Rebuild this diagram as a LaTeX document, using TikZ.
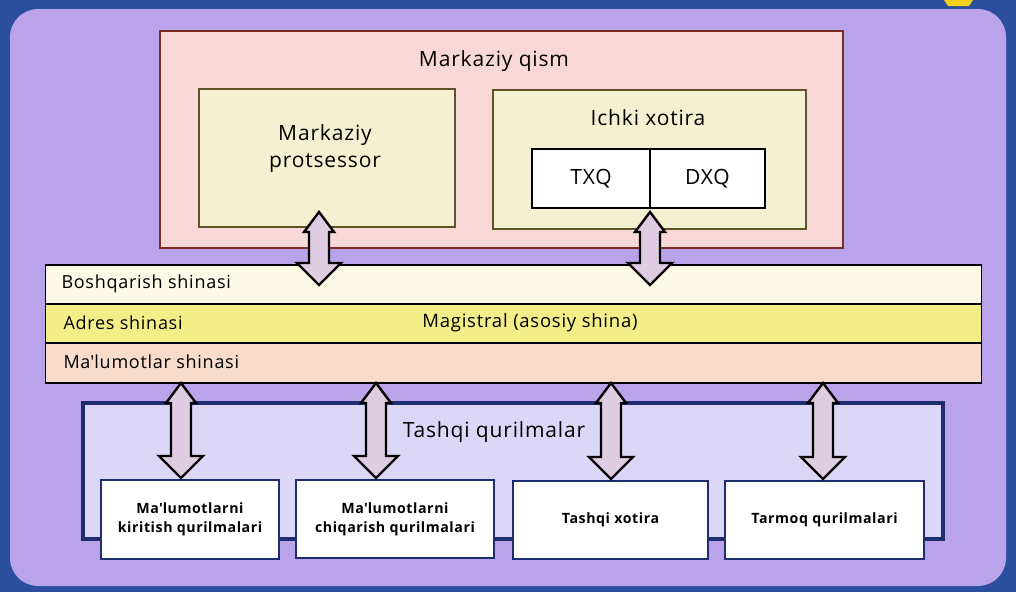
\documentclass[tikz,border=0pt]{standalone}
\usepackage{fontspec}
\setmainfont{Open Sans}[LetterSpace=4]
\usetikzlibrary{calc}
\definecolor{outerblue}{HTML}{2C4E9E}
\definecolor{lavender}{HTML}{B9A3EA}
\definecolor{centralpink}{HTML}{F7D8D6}
\definecolor{centralline}{HTML}{7A2E22}
\definecolor{unitfill}{HTML}{F4F0D2}
\definecolor{unitline}{HTML}{5E5326}
\definecolor{buscream}{HTML}{FCF9E6}
\definecolor{busyellow}{HTML}{F4EE88}
\definecolor{buspeach}{HTML}{F7DCCB}
\definecolor{periphfill}{HTML}{DCD7F6}
\definecolor{periphline}{HTML}{1E2C70}
\definecolor{arrowfill}{HTML}{E0CCE2}
\definecolor{tabyellow}{HTML}{F2D21A}
\def\busarrow(#1)(#2){\draw[busarrow] (#1) -- ++(15,20) -- ++(-5,0) -- ($(#2)+(10,-22)$) -- ++(12,0) -- (#2) -- ++(-22,-22) -- ++(12,0) -- ($(#1)+(-10,20)$) -- ++(-5,0) -- cycle;}

\begin{document}
\begin{tikzpicture}[x=1pt, y=-1pt,
	box/.style={rectangle, inner sep=0pt},
	busrow/.style={box, draw=black, line width=1.3pt, minimum width=936, anchor=west},
	buslabel/.style={anchor=west, font=\fontsize{18}{20}\selectfont},
	device/.style={box, fill=white, draw=periphline, line width=2.5pt, align=center, font=\fontsize{14.2}{19}\selectfont\bfseries},
	busarrow/.style={fill=arrowfill, draw=black, line width=2.4pt}]
			%%%%% BACKGROUND %%%%%
			\useasboundingbox (0,0) rectangle (1016,592);
			\fill[outerblue] (0,0) rectangle (1016,592);
			\fill[lavender, rounded corners=28] (10,9) rectangle (1006,586);
			\fill[tabyellow] (944,0) -- (973,0) -- (969,6) -- (948,6) -- cycle;
			
			%%%%% CENTRAL PART %%%%%
			\node[box, fill=centralpink, draw=centralline, line width=2.2pt, minimum width=683, minimum height=217] (central) at (501.5,139.5) {};
			\node[font=\fontsize{21}{24}\selectfont] (centraltitle) at (494,61) {Markaziy qism};
			
			\node[box, fill=unitfill, draw=unitline, line width=2pt, minimum width=256, minimum height=138] (cpu) at (327,158) {};
			\node[align=center, font=\fontsize{21}{27}\selectfont] (cputext) at (325,149) {Markaziy\\protsessor};
			
			\node[box, fill=unitfill, draw=unitline, line width=2pt, minimum width=313, minimum height=139] (memory) at (649.5,159.5) {};
			\node[font=\fontsize{21}{24}\selectfont] (memorytitle) at (648,118) {Ichki xotira};
			\node[box, fill=white, draw=black, line width=1.5pt, minimum width=118, minimum height=59, font=\fontsize{21}{24}\selectfont] (txq) at (591,178.5) {TXQ};
			\node[box, fill=white, draw=black, line width=1.5pt, minimum width=115, minimum height=59, font=\fontsize{21}{24}\selectfont] (dxq) at (707.5,178.5) {DXQ};
			
			%%%%% BUS %%%%%
			\node[busrow, fill=buscream, minimum height=39] (control) at (45,284.5) {};
			\node[busrow, fill=busyellow, minimum height=39] (address) at (45,323.5) {};
			\node[busrow, fill=buspeach, minimum height=40] (data) at (45,363) {};
			\node[buslabel] (controltext) at (58,284) {Boshqarish shinasi};
			\node[buslabel] (addresstext) at (60,323) {Adres shinasi};
			\node[font=\fontsize{18.5}{20}\selectfont] (bustitle) at (530,323) {Magistral (asosiy shina)};
			\node[buslabel] (datatext) at (60,362) {Ma\textquotesingle lumotlar shinasi};
			
			%%%%% PERIPHERALS %%%%%
			\node[box, fill=periphfill, draw=periphline, line width=3.5pt, minimum width=860, minimum height=136] (periph) at (513,471) {};
			\node[font=\fontsize{21}{26}\selectfont] (periphtitle) at (494,432) {Tashqi qurilmalar};
			
			\node[device, minimum width=178, minimum height=79] (input) at (190,519.5) {Ma\textquotesingle lumotlarni\\kiritish qurilmalari};
			\node[device, minimum width=198, minimum height=78] (output) at (395,519) {Ma\textquotesingle lumotlarni\\chiqarish qurilmalari};
			\node[device, minimum width=195, minimum height=78] (storage) at (610.5,520) {Tashqi xotira};
			\node[device, minimum width=199, minimum height=78] (network) at (824.5,520) {\raisebox{3pt}{Tarmoq qurilmalari}};
			
			%%%%% ARROWS %%%%%
			\coordinate (cpuend) at (319,212);
			\coordinate (cpubus) at (319,285);
			\coordinate (memend) at (650,212);
			\coordinate (membus) at (650,285);
			\busarrow(cpuend)(cpubus);
			\busarrow(memend)(membus);
			
			\coordinate (inbus) at (181,383);
			\coordinate (inend) at (181,478);
			\coordinate (outbus) at (376,383);
			\coordinate (outend) at (376,478);
			\coordinate (storebus) at (611,383);
			\coordinate (storeend) at (611,479);
			\coordinate (netbus) at (823,383);
			\coordinate (netend) at (823,479);
			\busarrow(inbus)(inend);
			\busarrow(outbus)(outend);
			\busarrow(storebus)(storeend);
			\busarrow(netbus)(netend);
			
			%%%%% END %%%%%
\end{tikzpicture}
\end{document}
